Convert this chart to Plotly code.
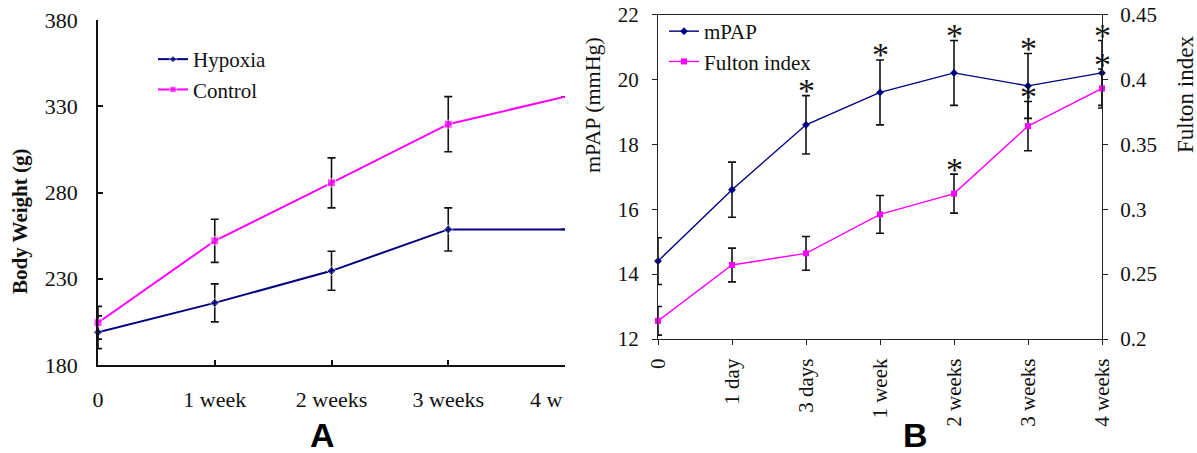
import plotly.graph_objects as go

# ---------- Panel A data ----------
a_weeks = ["0", "1 week", "2 weeks", "3 weeks", "4 w"]
a_hypoxia = [199, 216, 234.6, 258.6, 258.6]
a_hypoxia_err = [9.5, 11, 11.3, 12.5, None]
a_control = [204.5, 252, 285.6, 319.6, 335.5]
a_control_err = [9.5, 12.5, 14.5, 16, None]
a_yticks = [180, 230, 280, 330, 380]

# ---------- Panel B data ----------
b_times = ["0", "1 day", "3 days", "1 week", "2 weeks", "3 weeks", "4 weeks"]
b_mpap = [14.4, 16.6, 18.6, 19.6, 20.2, 19.8, 20.2]
b_mpap_err = [0.72, 0.85, 0.9, 1.0, 1.0, 1.0, 1.0]
b_fulton = [0.214, 0.257, 0.266, 0.296, 0.312, 0.364, 0.393]
b_fulton_err = [0.011, 0.013, 0.013, 0.0145, 0.015, 0.019, 0.015]
b_mpap_sig = [False, False, True, True, True, True, True]
b_fulton_sig = [False, False, False, False, True, True, True]
b_left_ticks = [12, 14, 16, 18, 20, 22]
b_right_ticks = [0.2, 0.25, 0.3, 0.35, 0.4, 0.45]
b_right_ticktext = ["0.2", "0.25", "0.3", "0.35", "0.4", "0.45"]

NAVY = "#000080"
MAG = "#FF00FF"
SERIF = "Liberation Serif"
INK = "#111111"
W, H = 1197, 453

fig = go.Figure()

err_style = dict(type="data", color=INK, thickness=1.6, width=4, visible=True)

# Panel A traces
fig.add_trace(go.Scatter(
    x=a_weeks, y=a_hypoxia, name="Hypoxia", mode="lines+markers",
    line=dict(color=NAVY, width=2),
    marker=dict(symbol="diamond", size=[7, 7, 7, 7, 0], color=NAVY),
    error_y=dict(array=a_hypoxia_err, **err_style),
    xaxis="x", yaxis="y", cliponaxis=False, legend="legend"))
fig.add_trace(go.Scatter(
    x=a_weeks, y=a_control, name="Control", mode="lines+markers",
    line=dict(color=MAG, width=2),
    marker=dict(symbol="square", size=[8, 8, 8, 8, 0], color=MAG),
    error_y=dict(array=a_control_err, **err_style),
    xaxis="x", yaxis="y", cliponaxis=False, legend="legend"))

# Panel B traces
fig.add_trace(go.Scatter(
    x=b_times, y=b_mpap, name="mPAP", mode="lines+markers",
    line=dict(color=NAVY, width=1.4),
    marker=dict(symbol="diamond", size=6, color=NAVY),
    error_y=dict(array=b_mpap_err, **err_style),
    xaxis="x2", yaxis="y2", cliponaxis=False, legend="legend2"))
fig.add_trace(go.Scatter(
    x=b_times, y=b_fulton, name="Fulton index", mode="lines+markers",
    line=dict(color=MAG, width=1.4),
    marker=dict(symbol="square", size=6, color=MAG),
    error_y=dict(array=b_fulton_err, **err_style),
    xaxis="x2", yaxis="y3", cliponaxis=False, legend="legend2"))

# domains from pixel positions
ax_dom = [98 / W, 565 / W]
ay_dom = [(H - 365) / H, (H - 20) / H]
bx_dom = [658 / W, 1102 / W]
by_dom = [(H - 339) / H, (H - 14.5) / H]

fontA = dict(family=SERIF, size=22, color=INK)
fontB = dict(family=SERIF, size=21, color=INK)

annotations = []
# asterisks
star_font = dict(family=SERIF, size=34, color=INK)
for t, m, e, s in zip(b_times, b_mpap, b_mpap_err, b_mpap_sig):
    if s:
        annotations.append(dict(x=t, y=m + e, xref="x2", yref="y2", text="*",
                                showarrow=False, xanchor="center", yanchor="middle",
                                yshift=5, font=star_font))
for t, f, e, s in zip(b_times, b_fulton, b_fulton_err, b_fulton_sig):
    if s:
        annotations.append(dict(x=t, y=f + e, xref="x2", yref="y3", text="*",
                                showarrow=False, xanchor="center", yanchor="middle",
                                yshift=5, font=star_font))

# axis titles & panel letters (pixel positions -> paper)
def px(x, y):
    return x / W, 1 - y / H

for txt, (x, y), ang, fnt in [
    ("<b>Body Weight (g)</b>", (20, 222), -90, dict(family=SERIF, size=21, color=INK)),
    ("mPAP (mmHg)", (593, 105), -90, dict(family=SERIF, size=22, color=INK)),
    ("Fulton index", (1186, 95), -90, dict(family=SERIF, size=23, color=INK)),
    ("<b>A</b>", (322, 435), 0, dict(family="Liberation Sans", size=34, color="#000000")),
    ("<b>B</b>", (915, 435), 0, dict(family="Liberation Sans", size=34, color="#000000")),
]:
    xx, yy = px(x, y)
    annotations.append(dict(x=xx, y=yy, xref="paper", yref="paper", text=txt,
                            textangle=ang, showarrow=False, xanchor="center",
                            yanchor="middle", font=fnt))
# clipped last tick label of panel A
annotations.append(dict(x=a_weeks[-1], y=1 - 399 / H, xref="x", yref="paper",
                        text=a_weeks[-1], xanchor="right", yanchor="middle",
                        showarrow=False, font=fontA))

fig.update_layout(
    template=None,
    width=W, height=H,
    margin=dict(l=0, r=0, t=0, b=0, autoexpand=False),
    paper_bgcolor="white", plot_bgcolor="white",
    showlegend=True,
    xaxis=dict(domain=ax_dom, type="category", range=[0, 4], automargin=False,
               showline=True, linecolor=INK, linewidth=1.6,
               ticks="inside", ticklen=5, tickwidth=1.5, tickcolor=INK,
               showgrid=False, zeroline=False,
               tickvals=a_weeks[:-1], ticktext=a_weeks[:-1],
               tickfont=fontA, ticklabelstandoff=14, anchor="y"),
    yaxis=dict(domain=ay_dom, range=[180, 380], tickvals=a_yticks, automargin=False,
               showline=True, linecolor=INK, linewidth=1.6,
               ticks="inside", ticklen=5, tickwidth=1.5, tickcolor=INK,
               showgrid=False, zeroline=False,
               tickfont=fontA, ticklabelstandoff=14, anchor="x"),
    xaxis2=dict(domain=bx_dom, type="category", range=[0, 6], automargin=False,
                showline=True, linecolor="#222222", linewidth=1.3, mirror=True,
                ticks="outside", ticklen=5, tickwidth=1.3, tickcolor="#222222",
                showgrid=False, zeroline=False, tickangle=-90,
                tickfont=fontB, ticklabelstandoff=5, anchor="y2"),
    yaxis2=dict(domain=by_dom, range=[12, 22], tickvals=b_left_ticks, automargin=False,
                showline=True, linecolor="#222222", linewidth=1.3,
                ticks="outside", ticklen=5, tickwidth=1.3, tickcolor="#222222",
                showgrid=False, zeroline=False,
                tickfont=fontB, ticklabelstandoff=9, anchor="x2"),
    yaxis3=dict(range=[0.2, 0.45], tickvals=b_right_ticks, ticktext=b_right_ticktext,
                overlaying="y2", side="right", anchor="x2", automargin=False,
                showline=True, linecolor="#222222", linewidth=1.3,
                ticks="outside", ticklen=5, tickwidth=1.3, tickcolor="#222222",
                showgrid=False, zeroline=False,
                tickfont=fontB, ticklabelstandoff=8),
    legend=dict(x=153 / W, y=1 - 39 / H, xanchor="left", yanchor="top",
                bgcolor="rgba(0,0,0,0)", font=dict(family=SERIF, size=21, color=INK),
                tracegroupgap=0, itemwidth=30),
    legend2=dict(x=664 / W, y=1 - 11 / H, xanchor="left", yanchor="top",
                 bgcolor="rgba(0,0,0,0)", font=dict(family=SERIF, size=21, color=INK),
                 tracegroupgap=0, itemwidth=30),
    annotations=annotations,
)

fig.write_html(
    "out.html",
    post_script="document.body.style.margin='0';document.body.style.overflow='hidden';",
)
